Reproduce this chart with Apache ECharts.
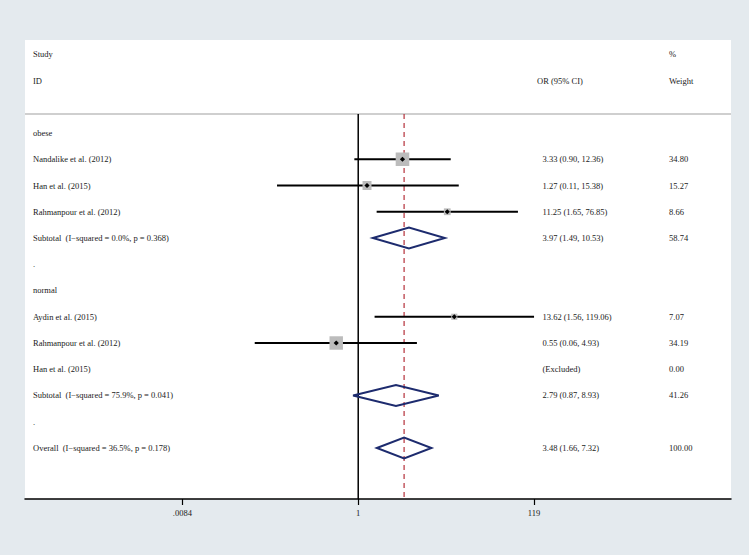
<!DOCTYPE html>
<html><head><meta charset="utf-8">
<script src="https://cdn.jsdelivr.net/npm/echarts@6/dist/echarts.min.js"></script>
<style>html,body{margin:0;padding:0;background:#e4eaee}#c{width:749px;height:555px}</style>
</head><body><div id="c"></div>
<script>
// ---- data ----
const headerLeft = ['Study', 'ID'];
const headerRows = [-3, -2];
const groupNames = ['obese', 'normal'];
const groupRows = [0, 6];
const spacerRows = [5, 11];

const studyNames = ['Nandalike et al. (2012)', 'Han et al. (2015)', 'Rahmanpour et al. (2012)',
                    'Aydin et al. (2015)', 'Rahmanpour et al. (2012)', 'Han et al. (2015)'];
const studyRows = [1, 2, 3, 7, 8, 9];
const studyOR = [3.33, 1.27, 11.25, 13.62, 0.55, null];
const studyLow = [0.90, 0.11, 1.65, 1.56, 0.06, null];
const studyHigh = [12.36, 15.38, 76.85, 119.06, 4.93, null];
const studyWeight = [34.80, 15.27, 8.66, 7.07, 34.19, 0.00];
const studyEstText = ['3.33 (0.90, 12.36)', '1.27 (0.11, 15.38)', '11.25 (1.65, 76.85)',
                      '13.62 (1.56, 119.06)', '0.55 (0.06, 4.93)', '(Excluded)'];

const pooledNames = ['Subtotal  (I\u2212squared = 0.0%, p = 0.368)',
                     'Subtotal  (I\u2212squared = 75.9%, p = 0.041)',
                     'Overall  (I\u2212squared = 36.5%, p = 0.178)'];
const pooledRows = [4, 10, 12];
const pooledOR = [3.97, 2.79, 3.48];
const pooledLow = [1.49, 0.87, 1.66];
const pooledHigh = [10.53, 8.93, 7.32];
const pooledWeight = [58.74, 41.26, 100.00];
const pooledEstText = ['3.97 (1.49, 10.53)', '2.79 (0.87, 8.93)', '3.48 (1.66, 7.32)'];

const tickValues = [0.0084, 1, 119];
const tickLabels = ['.0084', '1', '119'];

// ---- layout constants ----
const FONT = '8.5px "Liberation Serif", "Times New Roman", serif';
const TXT = '#1a1a1a';
const COL_LEFT = 33, COL_EST = 542.5, COL_EST_HDR = 537, COL_W = 669;
const ROW_SEP = -0.724, ROW_MIN = -3.543, ROW_MAX = 13.943;
const X_MIN = 1.164e-4, X_MAX = 25180;

// text items: [col, row, text]
const texts = [];
texts.push([COL_LEFT, headerRows[0], headerLeft[0]]);
texts.push([COL_LEFT, headerRows[1], headerLeft[1]]);
texts.push([COL_W, headerRows[0], '%']);
texts.push([COL_W, headerRows[1], 'Weight']);
texts.push([COL_EST_HDR, headerRows[1], 'OR (95% CI)']);
groupNames.forEach((g, i) => texts.push([COL_LEFT, groupRows[i], g]));
spacerRows.forEach(r => texts.push([COL_LEFT, r, '.']));
studyNames.forEach((s, i) => {
  texts.push([COL_LEFT, studyRows[i], s]);
  texts.push([COL_EST, studyRows[i], studyEstText[i]]);
  texts.push([COL_W, studyRows[i], studyWeight[i].toFixed(2)]);
});
pooledNames.forEach((s, i) => {
  texts.push([COL_LEFT, pooledRows[i], s]);
  texts.push([COL_EST, pooledRows[i], pooledEstText[i]]);
  texts.push([COL_W, pooledRows[i], pooledWeight[i].toFixed(2)]);
});

const studyData = [];
studyNames.forEach((s, i) => {
  if (studyOR[i] != null) studyData.push([studyLow[i], studyHigh[i], studyRows[i], studyOR[i], studyWeight[i]]);
});
const pooledData = pooledNames.map((s, i) => [pooledLow[i], pooledHigh[i], pooledRows[i], pooledOR[i]]);

const chart = echarts.init(document.getElementById('c'), null, {renderer: 'svg'});
chart.setOption({
  animation: false,
  backgroundColor: '#e4eaee',
  grid: {left: 25, right: 18, top: 40, bottom: 56, show: true, backgroundColor: '#fff', borderWidth: 0},
  xAxis: [{
    type: 'log', logBase: 10, min: X_MIN, max: X_MAX, gridIndex: 0, position: 'bottom',
    axisLine: {show: true, onZero: false, lineStyle: {color: '#000', width: 1.5}},
    axisTick: {show: true, customValues: tickValues, length: 6, lineStyle: {color: '#000', width: 1.2}},
    axisLabel: {show: true, customValues: tickValues, margin: 9, color: TXT,
      fontFamily: '"Liberation Serif", serif', fontSize: 8.5,
      formatter: v => {
        const k = tickValues.findIndex(t => Math.abs(Math.log10(t) - Math.log10(v)) < 1e-6);
        return k >= 0 ? tickLabels[k] : '';
      }},
    splitLine: {show: false}, minorTick: {show: false}
  }, {
    type: 'value', min: 25, max: 731, gridIndex: 0, show: false,
    axisLine: {onZero: false}
  }],
  yAxis: {type: 'value', inverse: true, min: ROW_MIN, max: ROW_MAX, show: false, axisLine: {onZero: false}},
  series: [
    { // reference lines
      type: 'custom', xAxisIndex: 0, yAxisIndex: 0, silent: true, z: 1,
      data: [[1, 0], [pooledOR[2], 1]],
      renderItem: (params, api) => {
        const cs = params.coordSys;
        const x = api.coord([api.value(0), ROW_SEP])[0];
        const yTop = api.coord([1, ROW_SEP])[1];
        const yBot = cs.y + cs.height;
        const kids = [];
        if (params.dataIndex === 0) {
          kids.push({type: 'line', shape: {x1: cs.x, y1: yTop, x2: cs.x + cs.width, y2: yTop},
            style: {stroke: '#cfcfcf', lineWidth: 2}});
          kids.push({type: 'line', shape: {x1: x, y1: yTop, x2: x, y2: yBot},
            style: {stroke: '#000', lineWidth: 1.5}});
        } else {
          kids.push({type: 'line', shape: {x1: x, y1: yTop, x2: x, y2: yBot},
            style: {stroke: '#b4303a', lineWidth: 1.2, lineDash: [5, 4]}});
        }
        return {type: 'group', children: kids};
      }
    },
    { // study CIs and squares
      type: 'custom', xAxisIndex: 0, yAxisIndex: 0, silent: true, z: 3,
      data: studyData,
      renderItem: (params, api) => {
        const row = api.value(2);
        const a = api.coord([api.value(0), row]);
        const b = api.coord([api.value(1), row]);
        const c = api.coord([api.value(3), row]);
        const s = 2.3 * Math.sqrt(api.value(4));
        const d = 2.6;
        return {type: 'group', children: [
          {type: 'line', shape: {x1: a[0], y1: a[1], x2: b[0], y2: b[1]}, style: {stroke: '#000', lineWidth: 1.8}},
          {type: 'rect', shape: {x: c[0] - s / 2, y: c[1] - s / 2, width: s, height: s}, style: {fill: '#bcbcbc'}},
          {type: 'polygon', shape: {points: [[c[0] - d, c[1]], [c[0], c[1] - d], [c[0] + d, c[1]], [c[0], c[1] + d]]},
            style: {fill: '#000'}}
        ]};
      }
    },
    { // pooled diamonds
      type: 'custom', xAxisIndex: 0, yAxisIndex: 0, silent: true, z: 3,
      data: pooledData,
      renderItem: (params, api) => {
        const row = api.value(2);
        const l = api.coord([api.value(0), row]);
        const r = api.coord([api.value(1), row]);
        const t = api.coord([api.value(3), row - 0.4]);
        const b = api.coord([api.value(3), row + 0.4]);
        return {type: 'polygon', shape: {points: [l, t, r, b]},
          style: {fill: 'none', stroke: '#1d2b6e', lineWidth: 2}};
      }
    },
    { // text
      type: 'custom', xAxisIndex: 1, yAxisIndex: 0, silent: true, z: 4,
      data: texts.map(t => [t[0], t[1]]),
      renderItem: (params, api) => {
        const p = api.coord([api.value(0), api.value(1)]);
        return {type: 'text', x: p[0], y: p[1],
          style: {text: texts[params.dataIndex][2], font: FONT, fill: TXT, align: 'left', verticalAlign: 'middle'}};
      }
    }
  ]
});
</script>
</body></html>
